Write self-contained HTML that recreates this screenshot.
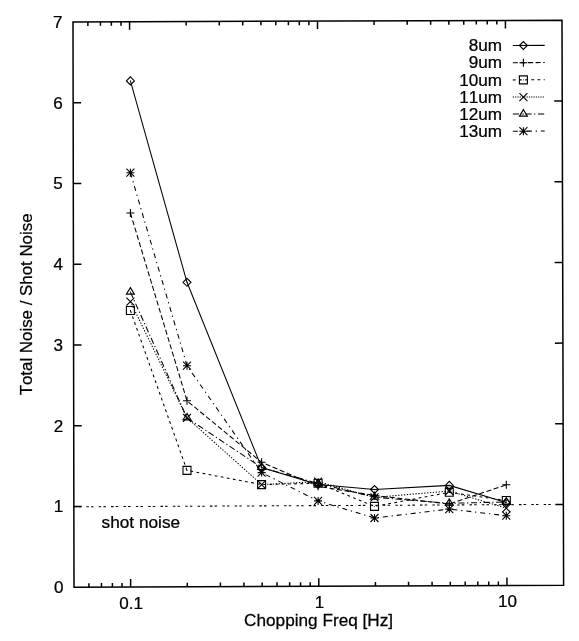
<!DOCTYPE html>
<html lang="en">
<head>
<meta charset="utf-8">
<title>Total Noise / Shot Noise vs Chopping Freq</title>
<style>
html,body{margin:0;padding:0;background:#fff;}
body{width:579px;height:641px;overflow:hidden;}
svg{display:block;}
svg{filter:blur(0.25px);}
svg text{font-family:"Liberation Sans",Arial,Helvetica,sans-serif;font-size:17px;fill:#000;stroke:#000;stroke-width:0.25px;font-kerning:none;}
</style>
</head>
<body>
<svg width="579" height="641" viewBox="0 0 579 641">
<rect x="0" y="0" width="579" height="641" fill="#fff"/>
<polygon points="73,21.95 562,20.3 563.6,585.2 74,587.2" fill="none" stroke="#000" stroke-width="1.5" stroke-linejoin="miter"/>
<path d="M88.9 587.14L88.89 583.14 M87.88 21.9L87.89 25.9 M101.5 587.09L101.49 583.09 M100.46 21.86L100.47 25.86 M112.41 587.04L112.4 583.04 M111.36 21.82L111.37 25.82 M122.03 587L122.02 583 M120.97 21.79L120.98 25.79 M130.64 586.97L130.63 578.97 M129.57 21.76L129.59 29.76 M187.28 586.74L187.27 582.74 M186.14 21.57L186.15 25.57 M220.42 586.6L220.41 582.6 M219.24 21.46L219.24 25.46 M243.92 586.51L243.92 582.51 M242.72 21.38L242.72 25.38 M262.16 586.43L262.15 582.43 M260.93 21.32L260.94 25.32 M277.06 586.37L277.05 582.37 M275.81 21.27L275.82 25.27 M289.65 586.32L289.65 582.32 M288.39 21.22L288.4 25.22 M300.57 586.27L300.56 582.27 M299.29 21.19L299.3 25.19 M310.19 586.24L310.18 582.24 M308.9 21.15L308.91 25.15 M318.8 586.2L318.78 578.2 M317.5 21.12L317.52 29.12 M375.44 585.97L375.43 581.97 M374.07 20.93L374.08 24.93 M408.57 585.83L408.57 581.83 M407.16 20.82L407.17 24.82 M432.08 585.74L432.07 581.74 M430.64 20.74L430.65 24.74 M450.32 585.66L450.31 581.66 M448.86 20.68L448.86 24.68 M465.22 585.6L465.21 581.6 M463.74 20.63L463.74 24.63 M477.81 585.55L477.8 581.55 M476.32 20.59L476.33 24.59 M488.72 585.51L488.72 581.51 M487.22 20.55L487.22 24.55 M498.35 585.47L498.34 581.47 M496.83 20.52L496.84 24.52 M506.96 585.43L506.94 577.43 M505.43 20.49L505.44 28.49 M73.86 506.45L81.86 506.42 M563.37 504.5L555.37 504.53 M73.71 425.7L81.71 425.67 M563.14 423.8L555.14 423.83 M73.57 344.95L81.57 344.92 M562.91 343.1L554.91 343.13 M73.43 264.2L81.43 264.17 M562.69 262.4L554.69 262.43 M73.29 183.45L81.29 183.42 M562.46 181.7L554.46 181.73 M73.14 102.7L81.14 102.67 M562.23 101L554.23 101.03" fill="none" stroke="#000" stroke-width="1.5"/>
<text transform="translate(63.5 593.2) scale(1.035 1)" text-anchor="end" style="font-size:16.5px">0</text>
<text transform="translate(63.36 512.45) scale(1.035 1)" text-anchor="end" style="font-size:16.5px">1</text>
<text transform="translate(63.21 431.7) scale(1.035 1)" text-anchor="end" style="font-size:16.5px">2</text>
<text transform="translate(63.07 350.95) scale(1.035 1)" text-anchor="end" style="font-size:16.5px">3</text>
<text transform="translate(62.93 270.2) scale(1.035 1)" text-anchor="end" style="font-size:16.5px">4</text>
<text transform="translate(62.79 189.45) scale(1.035 1)" text-anchor="end" style="font-size:16.5px">5</text>
<text transform="translate(62.64 108.7) scale(1.035 1)" text-anchor="end" style="font-size:16.5px">6</text>
<text transform="translate(62.5 27.95) scale(1.035 1)" text-anchor="end" style="font-size:16.5px">7</text>
<text transform="translate(131.24 608.97) scale(1.035 1)" text-anchor="middle" style="font-size:16.5px">0.1</text>
<text transform="translate(319.4 608.2) scale(1.035 1)" text-anchor="middle" style="font-size:16.5px">1</text>
<text transform="translate(507.56 607.43) scale(1.035 1)" text-anchor="middle" style="font-size:16.5px">10</text>
<text transform="translate(318.6 625.8) scale(1.042 1)" text-anchor="middle" style="font-size:16.5px">Chopping Freq [Hz]</text>
<text transform="translate(31.6 304.4) rotate(-90) scale(1.03 1)" text-anchor="middle" style="font-size:16.4px">Total Noise / Shot Noise</text>
<text transform="translate(101.6 527.8) scale(1.045 1)" text-anchor="start" style="font-size:16.5px">shot noise</text>
<path d="M74 506.8L563.4 504.4" fill="none" stroke="#000" stroke-width="1.05" stroke-dasharray="2.5 2.12 2.5 5.24"/>
<path d="M130.4 80.9L187 282.3L261.6 467.5L318.1 484.4L374.5 489.5L449.3 485.4L506.3 502.5" fill="none" stroke="#000" stroke-width="1.05"/>
<path d="M126.4 80.9L130.4 76.9L134.4 80.9L130.4 84.9ZM183 282.3L187 278.3L191 282.3L187 286.3ZM257.6 467.5L261.6 463.5L265.6 467.5L261.6 471.5ZM314.1 484.4L318.1 480.4L322.1 484.4L318.1 488.4ZM370.5 489.5L374.5 485.5L378.5 489.5L374.5 493.5ZM445.3 485.4L449.3 481.4L453.3 485.4L449.3 489.4ZM502.3 502.5L506.3 498.5L510.3 502.5L506.3 506.5Z" fill="none" stroke="#000" stroke-width="1.1"/>
<path d="M130.4 213L187 400.8L261.6 462.3L318.1 486.3L374.5 495.5L449.3 504L506.3 484.8" fill="none" stroke="#000" stroke-width="1.05" stroke-dasharray="5.08 2.54"/>
<path d="M126.4 213H134.4M130.4 209V217M183 400.8H191M187 396.8V404.8M257.6 462.3H265.6M261.6 458.3V466.3M314.1 486.3H322.1M318.1 482.3V490.3M370.5 495.5H378.5M374.5 491.5V499.5M445.3 504H453.3M449.3 500V508M502.3 484.8H510.3M506.3 480.8V488.8" fill="none" stroke="#000" stroke-width="1.1"/>
<path d="M130.4 310.5L187 470.4L261.6 484.6L318.1 483.3L374.5 506.4L449.3 492.3L506.3 500.5" fill="none" stroke="#000" stroke-width="1.05" stroke-dasharray="2.8 3.38"/>
<path d="M126.4 306.5H134.4V314.5H126.4ZM183 466.4H191V474.4H183ZM257.6 480.6H265.6V488.6H257.6ZM314.1 479.3H322.1V487.3H314.1ZM370.5 502.4H378.5V510.4H370.5ZM445.3 488.3H453.3V496.3H445.3ZM502.3 496.5H510.3V504.5H502.3Z" fill="none" stroke="#000" stroke-width="1.1"/>
<path d="M130.4 301.6L187 417.9L261.6 484.6L318.1 481.6L374.5 497.4L449.3 491L506.3 508.2" fill="none" stroke="#000" stroke-width="1.05" stroke-dasharray="1.3 1.6"/>
<path d="M126.4 297.6L134.4 305.6M126.4 305.6L134.4 297.6M183 413.9L191 421.9M183 421.9L191 413.9M257.6 480.6L265.6 488.6M257.6 488.6L265.6 480.6M314.1 477.6L322.1 485.6M314.1 485.6L322.1 477.6M370.5 493.4L378.5 501.4M370.5 501.4L378.5 493.4M445.3 487L453.3 495M445.3 495L453.3 487M502.3 504.2L510.3 512.2M502.3 512.2L510.3 504.2" fill="none" stroke="#000" stroke-width="1.1"/>
<path d="M130.4 292.1L187 417.9L261.6 467.5L318.1 483.5L374.5 497.2L449.3 503.3L506.3 502" fill="none" stroke="#000" stroke-width="1.05" stroke-dasharray="6.2 2.6 1.2 2.6"/>
<path d="M130.4 287.62L126.4 294.1L134.4 294.1ZM187 413.42L183 419.9L191 419.9ZM261.6 463.02L257.6 469.5L265.6 469.5ZM318.1 479.02L314.1 485.5L322.1 485.5ZM374.5 492.72L370.5 499.2L378.5 499.2ZM449.3 498.82L445.3 505.3L453.3 505.3ZM506.3 497.52L502.3 504L510.3 504Z" fill="none" stroke="#000" stroke-width="1.1"/>
<path d="M130.4 172.7L187 365.7L261.6 472.6L318.1 500.9L374.5 518L449.3 509.1L506.3 515.7" fill="none" stroke="#000" stroke-width="1.05" stroke-dasharray="5 3.85 1.3 3.85"/>
<path d="M126.4 172.7H134.4M130.4 168.7V176.7M126.4 168.7L134.4 176.7M126.4 176.7L134.4 168.7M183 365.7H191M187 361.7V369.7M183 361.7L191 369.7M183 369.7L191 361.7M257.6 472.6H265.6M261.6 468.6V476.6M257.6 468.6L265.6 476.6M257.6 476.6L265.6 468.6M314.1 500.9H322.1M318.1 496.9V504.9M314.1 496.9L322.1 504.9M314.1 504.9L322.1 496.9M370.5 518H378.5M374.5 514V522M370.5 514L378.5 522M370.5 522L378.5 514M445.3 509.1H453.3M449.3 505.1V513.1M445.3 505.1L453.3 513.1M445.3 513.1L453.3 505.1M502.3 515.7H510.3M506.3 511.7V519.7M502.3 511.7L510.3 519.7M502.3 519.7L510.3 511.7" fill="none" stroke="#000" stroke-width="1.1"/>
<text transform="translate(502 51.1) scale(1.045 1)" text-anchor="end" style="font-size:16.4px">8um</text>
<path d="M512.8 45.5L544.7 45.38" fill="none" stroke="#000" stroke-width="1.05"/>
<path d="M519.4 45.5L523.4 41.5L527.4 45.5L523.4 49.5Z" fill="none" stroke="#000" stroke-width="1.1"/>
<text transform="translate(502 68.3) scale(1.045 1)" text-anchor="end" style="font-size:16.4px">9um</text>
<path d="M512.8 62.7L544.7 62.58" fill="none" stroke="#000" stroke-width="1.05" stroke-dasharray="5.08 2.54"/>
<path d="M519.4 62.7H527.4M523.4 58.7V66.7" fill="none" stroke="#000" stroke-width="1.1"/>
<text transform="translate(502 85.5) scale(1.045 1)" text-anchor="end" style="font-size:16.4px">10um</text>
<path d="M512.8 79.9L544.7 79.78" fill="none" stroke="#000" stroke-width="1.05" stroke-dasharray="2.8 3.38"/>
<path d="M519.4 75.9H527.4V83.9H519.4Z" fill="none" stroke="#000" stroke-width="1.1"/>
<text transform="translate(502 102.7) scale(1.045 1)" text-anchor="end" style="font-size:16.4px">11um</text>
<path d="M512.8 97.1L544.7 96.98" fill="none" stroke="#000" stroke-width="1.05" stroke-dasharray="1.2 1.1"/>
<path d="M519.4 93.1L527.4 101.1M519.4 101.1L527.4 93.1" fill="none" stroke="#000" stroke-width="1.1"/>
<text transform="translate(502 119.7) scale(1.045 1)" text-anchor="end" style="font-size:16.4px">12um</text>
<path d="M512.8 114.1L544.7 113.98" fill="none" stroke="#000" stroke-width="1.05" stroke-dasharray="6.2 2.6 1.2 2.6"/>
<path d="M523.4 109.62L519.4 116.1L527.4 116.1Z" fill="none" stroke="#000" stroke-width="1.1"/>
<text transform="translate(502 136.8) scale(1.045 1)" text-anchor="end" style="font-size:16.4px">13um</text>
<path d="M512.8 131.2L544.7 131.08" fill="none" stroke="#000" stroke-width="1.05" stroke-dasharray="5 3.85 1.3 3.85"/>
<path d="M519.4 131.2H527.4M523.4 127.2V135.2M519.4 127.2L527.4 135.2M519.4 135.2L527.4 127.2" fill="none" stroke="#000" stroke-width="1.1"/>
<path d="M130.4 80.9h0.01M187 282.3h0.01M261.6 467.5h0.01M318.1 484.4h0.01M374.5 489.5h0.01M449.3 485.4h0.01M506.3 502.5h0.01M130.4 310.5h0.01M187 470.4h0.01M261.6 484.6h0.01M318.1 483.3h0.01M374.5 506.4h0.01M449.3 492.3h0.01M506.3 500.5h0.01M130.4 292.1h0.01M187 417.9h0.01M261.6 467.5h0.01M318.1 483.5h0.01M374.5 497.2h0.01M449.3 503.3h0.01M506.3 502h0.01M523.4 45.5h0.01M523.4 79.9h0.01M523.4 114.1h0.01" fill="none" stroke="#000" stroke-width="1" stroke-linecap="round"/>
</svg>
</body>
</html>
